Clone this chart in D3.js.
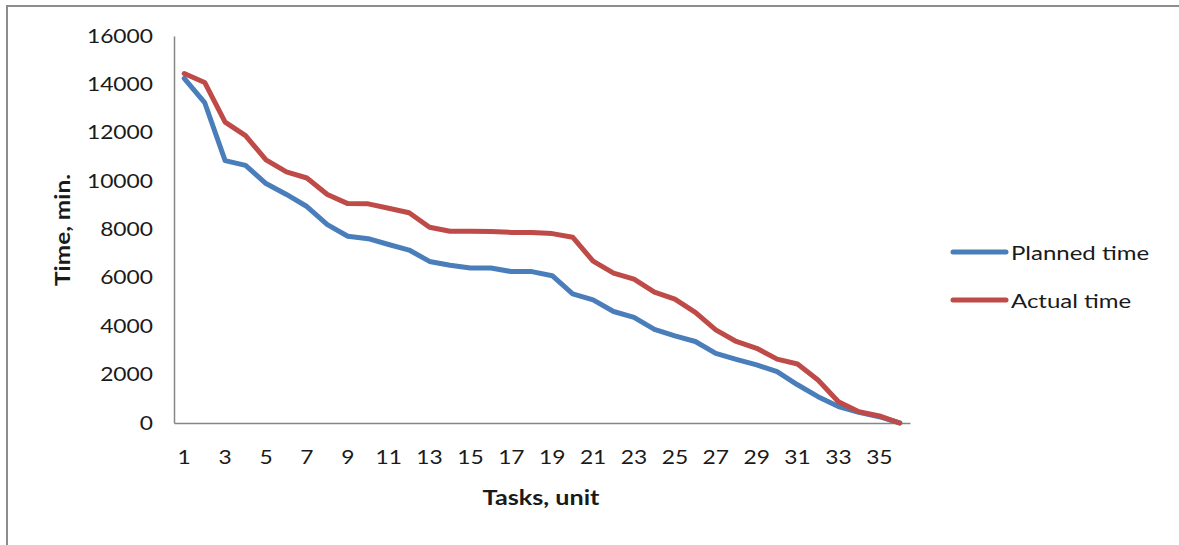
<!DOCTYPE html>
<html>
<head>
<meta charset="utf-8">
<script src="https://cdn.jsdelivr.net/npm/d3@7"></script>
<style>
  html, body { margin: 0; padding: 0; background: #fff; }
  svg { display: block; font-family: Lato, "Open Sans", sans-serif; }
</style>
</head>
<body>
<svg id="chart" width="1179" height="545"></svg>
<script>
// Task numbers along the x axis
const tasks = d3.range(1, 37);
// Remaining time per task, minutes
const plannedTime = [14250, 13250, 10850, 10650, 9900, 9450, 8950, 8200, 7720, 7620,
  7380, 7150, 6680, 6520, 6410, 6410, 6260, 6260, 6090, 5340,
  5090, 4610, 4370, 3870, 3600, 3370, 2880, 2630, 2400, 2120,
  1580, 1090, 680, 440, 260, 0];
const actualTime = [14450, 14080, 12440, 11880, 10880, 10380, 10130, 9450, 9070, 9060,
  8880, 8690, 8090, 7930, 7930, 7920, 7880, 7880, 7830, 7680,
  6690, 6200, 5950, 5410, 5120, 4570, 3850, 3370, 3090, 2640,
  2440, 1780, 880, 470, 290, 0];
const yTicks = [0, 2000, 4000, 6000, 8000, 10000, 12000, 14000, 16000];
const seriesNames = ["Planned time", "Actual time"];
const seriesColors = ["#4a7ebb", "#be4b48"];

// Horizontal stretch used for all labels (wide, Calibri-like proportions)
const STRETCH = 1.2;
const textColor = "#1a1a1a";

const svg = d3.select("#chart");

// Frame around the chart
svg.append("rect")
  .attr("x", 7).attr("y", 6)
  .attr("width", 1200).attr("height", 600)
  .attr("fill", "none")
  .attr("stroke", "#8c8c8c")
  .attr("stroke-width", 2);

const plot = { left: 174, right: 910, top: 36, bottom: 423 };

const x = d3.scaleBand()
  .domain(tasks)
  .range([plot.left, plot.right]);

const y = d3.scaleLinear()
  .domain([0, 16000])
  .range([plot.bottom, plot.top]);

// Y axis
const yAxis = svg.append("g")
  .attr("transform", `translate(${plot.left},0)`)
  .call(d3.axisLeft(y).tickValues(yTicks).tickSize(0).tickPadding(17.5).tickFormat(d3.format("d")));
yAxis.select(".domain").attr("stroke", "#868686").attr("stroke-width", 1.5);
yAxis.selectAll("text")
  .attr("fill", textColor)
  .attr("transform", `scale(${STRETCH},1)`)
  .style("font-size", "19px")
  .style("font-family", "Lato, 'Open Sans', sans-serif");

// X axis
const xAxis = svg.append("g")
  .attr("transform", `translate(0,${plot.bottom})`)
  .call(d3.axisBottom(x).tickValues(tasks.filter(d => d % 2 === 1)).tickSize(0).tickPadding(28));
xAxis.select(".domain").attr("stroke", "#868686").attr("stroke-width", 1.5);
xAxis.selectAll("text")
  .attr("fill", textColor)
  .attr("transform", `scale(${STRETCH},1)`)
  .style("font-size", "19px")
  .style("font-family", "Lato, 'Open Sans', sans-serif");

// Axis titles
svg.append("g")
  .attr("transform", "translate(62,230) rotate(-90)")
  .append("text")
  .attr("transform", `scale(${STRETCH + 0.02},1)`)
  .attr("text-anchor", "middle")
  .attr("dominant-baseline", "central")
  .attr("font-weight", "bold")
  .attr("font-size", 20)
  .attr("fill", textColor)
  .text("Time, min.");

svg.append("g")
  .attr("transform", "translate(541,498)")
  .append("text")
  .attr("transform", `scale(${STRETCH + 0.06},1)`)
  .attr("text-anchor", "middle")
  .attr("dominant-baseline", "central")
  .attr("font-weight", "bold")
  .attr("font-size", 20)
  .attr("fill", textColor)
  .text("Tasks, unit");

// Series lines
const line = d3.line()
  .x((d, i) => x(tasks[i]) + x.bandwidth() / 2)
  .y(d => y(d));

[plannedTime, actualTime].forEach((vals, k) => {
  svg.append("path")
    .datum(vals)
    .attr("fill", "none")
    .attr("stroke", seriesColors[k])
    .attr("stroke-width", 5)
    .attr("stroke-linejoin", "round")
    .attr("stroke-linecap", "round")
    .attr("d", line);
});

// Legend
const legend = svg.append("g");
seriesNames.forEach((name, k) => {
  const ly = 252 + k * 48;
  legend.append("line")
    .attr("x1", 953).attr("x2", 1006)
    .attr("y1", ly).attr("y2", ly)
    .attr("stroke", seriesColors[k])
    .attr("stroke-width", 5)
    .attr("stroke-linecap", "round");
  legend.append("g")
    .attr("transform", `translate(1011,${ly})`)
    .append("text")
    .attr("transform", `scale(${STRETCH},1)`)
    .attr("dominant-baseline", "central")
    .attr("font-size", 20)
    .attr("fill", textColor)
    .text(name);
});
</script>
</body>
</html>
